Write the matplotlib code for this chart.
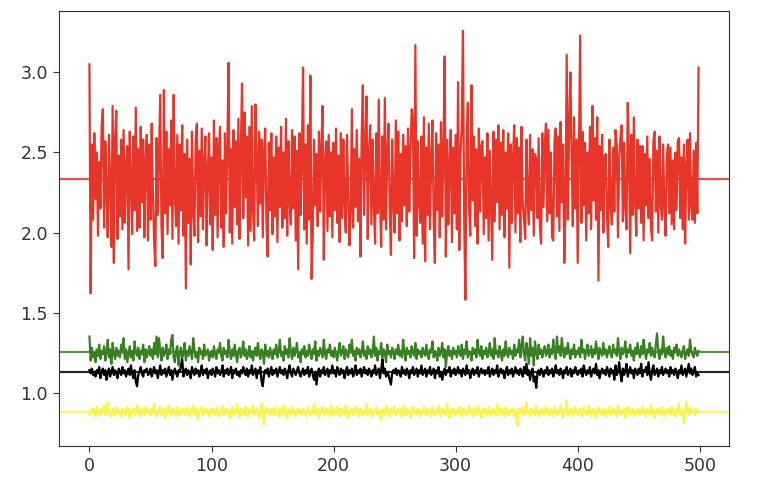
#!/usr/bin/env python3
"""Four noisy series with their mean lines."""

import matplotlib

matplotlib.use("Agg")
import matplotlib.pyplot as plt
import numpy as np

red_series = [
    3.05, 1.62, 2.55, 2.08, 2.62, 2.21, 2.50, 1.98, 2.44, 2.15, 2.66, 2.77, 2.03, 2.57, 2.25, 1.97, 2.61, 2.30, 1.91, 2.79,
    1.81, 2.59, 2.76, 1.96, 2.48, 2.10, 2.58, 2.02, 2.64, 2.06, 2.42, 2.54, 1.77, 2.63, 2.36, 1.99, 2.60, 2.14, 2.78, 2.01,
    2.52, 2.03, 2.66, 2.19, 2.58, 1.97, 2.47, 2.61, 1.95, 2.55, 2.08, 2.68, 2.24, 1.94, 1.79, 2.59, 2.11, 2.50, 2.86, 2.04,
    1.84, 2.89, 2.12, 2.63, 1.99, 2.52, 2.17, 2.70, 1.96, 2.86, 2.23, 2.04, 2.61, 1.93, 2.55, 2.14, 2.67, 1.98, 2.49, 1.65,
    2.58, 2.06, 2.46, 1.80, 2.63, 2.15, 1.98, 2.57, 2.68, 1.94, 2.51, 2.10, 2.65, 2.02, 2.44, 2.60, 1.92, 2.39, 2.62, 2.05,
    2.47, 1.89, 2.70, 2.11, 2.59, 1.97, 2.50, 2.66, 2.03, 2.45, 1.91, 2.62, 2.12, 2.55, 3.06, 2.00, 2.52, 1.93, 2.64, 2.16,
    2.57, 2.05, 2.71, 1.96, 2.50, 2.93, 2.09, 2.75, 2.22, 2.60, 1.92, 2.66, 2.01, 2.79, 2.13, 1.95, 2.80, 2.48, 2.04, 2.63,
    2.18, 2.58, 1.97, 2.49, 2.65, 2.07, 1.85, 2.56, 2.14, 2.62, 1.99, 2.47, 2.10, 2.60, 1.94, 2.53, 2.16, 2.66, 2.03, 2.50,
    2.09, 2.71, 1.98, 2.57, 2.20, 2.05, 2.64, 2.15, 2.60, 1.95, 2.51, 1.77, 2.62, 2.11, 2.47, 3.03, 2.02, 2.55, 1.93, 2.67,
    2.08, 2.98, 1.71, 2.00, 2.58, 2.17, 2.49, 2.04, 2.63, 2.13, 2.54, 2.79, 1.83, 2.44, 2.57, 2.01, 2.61, 2.10, 2.50, 1.97,
    2.56, 2.14, 2.65, 2.06, 2.48, 1.94, 2.62, 2.09, 2.58, 2.19, 2.00, 2.61, 2.27, 1.92, 2.13, 2.77, 2.03, 2.52, 2.16, 2.64,
    2.07, 2.46, 1.85, 2.60, 2.92, 2.11, 2.55, 2.85, 1.96, 2.49, 2.67, 2.05, 2.58, 2.18, 1.93, 2.62, 2.12, 2.83, 2.22, 1.91,
    2.60, 2.08, 2.84, 2.02, 2.51, 2.68, 2.15, 1.86, 2.58, 2.20, 2.00, 2.70, 2.12, 2.63, 1.95, 2.49, 2.07, 2.61, 2.17, 2.54,
    2.04, 2.65, 2.13, 2.51, 2.77, 2.71, 1.84, 3.17, 1.98, 2.57, 2.19, 2.06, 2.60, 1.93, 2.72, 1.82, 2.53, 2.11, 2.68, 2.02,
    2.47, 2.70, 2.08, 1.81, 2.62, 2.14, 2.55, 1.97, 2.69, 2.10, 2.50, 3.10, 1.85, 2.58, 2.05, 2.43, 2.64, 1.94, 2.53, 2.12,
    2.61, 2.02, 2.94, 1.89, 2.48, 2.67, 3.26, 2.08, 1.58, 2.56, 2.81, 2.15, 1.98, 2.92, 2.20, 2.60, 2.04, 2.52, 1.93, 2.65,
    2.13, 2.54, 2.57, 1.99, 2.47, 2.09, 2.62, 1.95, 2.51, 2.17, 1.83, 2.63, 2.07, 2.58, 2.19, 2.67, 2.02, 2.56, 2.11, 2.64,
    1.97, 2.50, 2.15, 2.62, 1.78, 2.55, 2.06, 2.46, 2.67, 2.00, 2.59, 2.12, 2.53, 1.94, 2.66, 2.18, 2.08, 1.96, 2.58, 2.20,
    2.05, 2.61, 2.14, 2.52, 1.98, 2.49, 2.46, 2.09, 2.59, 2.03, 1.93, 2.62, 2.16, 2.54, 2.68, 2.07, 2.64, 2.12, 2.50, 1.97,
    1.95, 2.57, 2.65, 2.10, 2.60, 2.01, 2.69, 2.19, 2.55, 1.81, 2.14, 3.11, 2.08, 2.67, 3.00, 2.48, 2.04, 2.72, 2.15, 2.58,
    1.81, 2.52, 3.23, 2.06, 2.63, 2.17, 2.56, 1.95, 2.50, 2.12, 2.66, 2.02, 2.79, 2.20, 2.59, 2.08, 2.72, 1.70, 2.54, 2.14,
    2.61, 2.00, 2.47, 2.49, 2.10, 1.91, 2.58, 2.18, 2.05, 2.53, 2.13, 2.64, 2.55, 1.97, 2.47, 2.59, 2.67, 2.07, 2.56, 2.16,
    2.02, 2.81, 2.51, 1.87, 2.61, 2.11, 2.72, 2.20, 1.98, 2.58, 2.15, 2.54, 2.06, 2.54, 1.95, 2.49, 2.17, 2.60, 2.09, 2.46,
    2.03, 1.95, 2.57, 2.63, 2.13, 2.51, 2.00, 2.60, 2.19, 2.08, 2.55, 2.15, 1.98, 2.48, 2.55, 2.12, 2.53, 2.05, 2.45, 2.02,
    2.50, 2.14, 2.57, 2.59, 2.09, 2.47, 2.02, 2.55, 1.93, 2.42, 2.58, 2.08, 2.62, 2.16, 2.08, 2.51, 2.06, 2.56, 2.12, 3.03,
]

green_series = [
    1.35, 1.20, 1.28, 1.22, 1.25, 1.19, 1.27, 1.23, 1.30, 1.21, 1.26, 1.24, 1.29, 1.20, 1.25, 1.33, 1.22, 1.27, 1.18, 1.31, 1.24, 1.21, 1.28, 1.23, 1.26,
    1.22, 1.30, 1.25, 1.34, 1.21, 1.27, 1.19, 1.24, 1.29, 1.22, 1.26, 1.20, 1.32, 1.25, 1.23, 1.28, 1.21, 1.26, 1.24, 1.30, 1.19, 1.27, 1.22, 1.25, 1.29,
    1.23, 1.27, 1.21, 1.31, 1.24, 1.35, 1.22, 1.34, 1.26, 1.20, 1.28, 1.23, 1.25, 1.30, 1.21, 1.27, 1.24, 1.33, 1.36, 1.22, 1.19, 1.26, 1.29, 1.17, 1.25,
    1.28, 1.22, 1.24, 1.31, 1.20, 1.26, 1.23, 1.29, 1.25, 1.21, 1.34, 1.27, 1.22, 1.25, 1.19, 1.28, 1.24, 1.26, 1.21, 1.30, 1.23, 1.25, 1.27, 1.20, 1.24,
    1.26, 1.22, 1.29, 1.24, 1.21, 1.27, 1.25, 1.31, 1.23, 1.20, 1.28, 1.24, 1.26, 1.22, 1.33, 1.25, 1.21, 1.27, 1.23, 1.30, 1.24, 1.19, 1.26, 1.28, 1.22,
    1.25, 1.32, 1.23, 1.27, 1.21, 1.24, 1.29, 1.22, 1.26, 1.20, 1.25, 1.28, 1.23, 1.31, 1.24, 1.21, 1.27, 1.25, 1.18, 1.30, 1.23, 1.26, 1.22, 1.28, 1.24,
    1.21, 1.27, 1.24, 1.30, 1.22, 1.26, 1.33, 1.23, 1.25, 1.20, 1.29, 1.24, 1.27, 1.22, 1.34, 1.25, 1.21, 1.28, 1.23, 1.26, 1.31, 1.22, 1.25, 1.19, 1.27,
    1.24, 1.29, 1.22, 1.26, 1.23, 1.30, 1.25, 1.21, 1.27, 1.24, 1.32, 1.20, 1.26, 1.23, 1.28, 1.25, 1.22, 1.33, 1.24, 1.21, 1.27, 1.25, 1.30, 1.23, 1.26,
    1.22, 1.28, 1.24, 1.20, 1.26, 1.31, 1.23, 1.25, 1.29, 1.21, 1.27, 1.24, 1.22, 1.30, 1.25, 1.33, 1.23, 1.26, 1.20, 1.28, 1.24, 1.27, 1.22, 1.25, 1.32,
    1.23, 1.26, 1.21, 1.29, 1.24, 1.27, 1.22, 1.25, 1.35, 1.23, 1.28, 1.20, 1.26, 1.24, 1.31, 1.22, 1.27, 1.25, 1.19, 1.30, 1.24, 1.26, 1.22, 1.28, 1.25,
    1.21, 1.27, 1.24, 1.30, 1.23, 1.26, 1.22, 1.33, 1.25, 1.20, 1.28, 1.24, 1.26, 1.22, 1.29, 1.25, 1.23, 1.31, 1.21, 1.27, 1.24, 1.26, 1.22, 1.28, 1.25,
    1.23, 1.30, 1.24, 1.21, 1.27, 1.25, 1.32, 1.22, 1.26, 1.24, 1.20, 1.28, 1.23, 1.25, 1.31, 1.22, 1.27, 1.16, 1.25, 1.29, 1.23, 1.26, 1.21, 1.28, 1.24,
    1.26, 1.22, 1.29, 1.25, 1.23, 1.30, 1.21, 1.27, 1.24, 1.32, 1.22, 1.26, 1.25, 1.20, 1.28, 1.24, 1.27, 1.22, 1.33, 1.25, 1.23, 1.29, 1.21, 1.26, 1.24,
    1.28, 1.22, 1.25, 1.31, 1.23, 1.27, 1.21, 1.34, 1.24, 1.26, 1.22, 1.29, 1.25, 1.20, 1.27, 1.23, 1.32, 1.25, 1.22, 1.28, 1.24, 1.26, 1.21, 1.30, 1.23,
    1.27, 1.25, 1.33, 1.22, 1.29, 1.35, 1.24, 1.20, 1.31, 1.26, 1.18, 1.34, 1.23, 1.28, 1.17, 1.32, 1.25, 1.21, 1.30, 1.24, 1.27, 1.22, 1.26, 1.29, 1.23,
    1.25, 1.30, 1.22, 1.27, 1.24, 1.33, 1.26, 1.21, 1.35, 1.25, 1.29, 1.23, 1.34, 1.26, 1.22, 1.28, 1.24, 1.31, 1.25, 1.21, 1.27, 1.24, 1.30, 1.22, 1.26,
    1.24, 1.28, 1.22, 1.33, 1.25, 1.27, 1.21, 1.26, 1.30, 1.23, 1.25, 1.29, 1.22, 1.27, 1.24, 1.32, 1.26, 1.21, 1.28, 1.25, 1.23, 1.31, 1.24, 1.27, 1.22,
    1.26, 1.29, 1.24, 1.22, 1.30, 1.25, 1.27, 1.23, 1.34, 1.25, 1.21, 1.28, 1.24, 1.26, 1.32, 1.22, 1.27, 1.25, 1.30, 1.23, 1.26, 1.20, 1.28, 1.24, 1.31,
    1.25, 1.22, 1.29, 1.24, 1.33, 1.26, 1.21, 1.27, 1.25, 1.31, 1.23, 1.28, 1.24, 1.22, 1.30, 1.37, 1.25, 1.21, 1.27, 1.24, 1.35, 1.26, 1.22, 1.28, 1.24,
    1.29, 1.23, 1.26, 1.21, 1.28, 1.25, 1.30, 1.23, 1.27, 1.24, 1.22, 1.26, 1.29, 1.21, 1.25, 1.27, 1.23, 1.33, 1.26, 1.24, 1.22, 1.28, 1.25, 1.23, 1.26,
]

black_series = [
    1.14, 1.12, 1.15, 1.11, 1.13, 1.10, 1.14, 1.12, 1.16, 1.09, 1.13, 1.15, 1.11, 1.14, 1.08, 1.12, 1.15, 1.10, 1.13, 1.16, 1.11, 1.14, 1.12, 1.09, 1.15,
    1.13, 1.11, 1.16, 1.12, 1.14, 1.10, 1.13, 1.15, 1.11, 1.17, 1.12, 1.09, 1.14, 1.07, 1.04, 1.11, 1.13, 1.16, 1.12, 1.10, 1.14, 1.13, 1.15, 1.11, 1.12,
    1.15, 1.10, 1.13, 1.16, 1.12, 1.14, 1.09, 1.13, 1.17, 1.11, 1.14, 1.12, 1.15, 1.10, 1.13, 1.16, 1.11, 1.14, 1.08, 1.13, 1.15, 1.12, 1.10, 1.14, 1.13,
    1.17, 1.21, 1.10, 1.13, 1.15, 1.11, 1.14, 1.12, 1.09, 1.16, 1.13, 1.11, 1.15, 1.12, 1.14, 1.10, 1.13, 1.17, 1.11, 1.14, 1.12, 1.15, 1.09, 1.13, 1.14,
    1.11, 1.15, 1.13, 1.10, 1.16, 1.12, 1.14, 1.11, 1.13, 1.17, 1.10, 1.14, 1.12, 1.15, 1.11, 1.13, 1.16, 1.09, 1.14, 1.12, 1.15, 1.11, 1.13, 1.10, 1.14,
    1.12, 1.16, 1.13, 1.11, 1.15, 1.10, 1.14, 1.12, 1.17, 1.11, 1.13, 1.15, 1.09, 1.14, 1.12, 1.16, 1.07, 1.04, 1.11, 1.14, 1.12, 1.15, 1.10, 1.13, 1.16,
    1.11, 1.14, 1.12, 1.15, 1.10, 1.13, 1.16, 1.12, 1.14, 1.11, 1.15, 1.13, 1.09, 1.14, 1.17, 1.12, 1.10, 1.15, 1.13, 1.11, 1.14, 1.16, 1.12, 1.10, 1.13,
    1.15, 1.11, 1.14, 1.12, 1.16, 1.10, 1.13, 1.15, 1.11, 1.08, 1.13, 1.05, 1.12, 1.15, 1.10, 1.14, 1.12, 1.16, 1.11, 1.13, 1.15, 1.10, 1.14, 1.12, 1.17,
    1.12, 1.14, 1.10, 1.16, 1.13, 1.11, 1.15, 1.12, 1.14, 1.09, 1.13, 1.16, 1.11, 1.14, 1.12, 1.15, 1.10, 1.13, 1.17, 1.11, 1.14, 1.12, 1.15, 1.10, 1.13,
    1.16, 1.12, 1.14, 1.11, 1.15, 1.13, 1.10, 1.14, 1.12, 1.17, 1.11, 1.13, 1.15, 1.09, 1.14, 1.21, 1.12, 1.15, 1.10, 1.13, 1.11, 1.08, 1.05, 1.12, 1.14,
    1.12, 1.15, 1.11, 1.14, 1.13, 1.10, 1.16, 1.12, 1.14, 1.11, 1.15, 1.13, 1.09, 1.14, 1.12, 1.16, 1.11, 1.13, 1.15, 1.10, 1.14, 1.12, 1.17, 1.11, 1.13,
    1.15, 1.10, 1.14, 1.12, 1.16, 1.11, 1.13, 1.15, 1.09, 1.14, 1.12, 1.16, 1.10, 1.13, 1.08, 1.12, 1.15, 1.11, 1.14, 1.13, 1.16, 1.10, 1.14, 1.12, 1.15,
    1.11, 1.13, 1.16, 1.12, 1.14, 1.10, 1.15, 1.13, 1.11, 1.17, 1.12, 1.14, 1.09, 1.13, 1.15, 1.11, 1.14, 1.12, 1.16, 1.10, 1.13, 1.15, 1.12, 1.14, 1.11,
    1.14, 1.12, 1.16, 1.10, 1.13, 1.15, 1.11, 1.14, 1.12, 1.17, 1.10, 1.13, 1.15, 1.12, 1.14, 1.09, 1.13, 1.16, 1.11, 1.14, 1.12, 1.15, 1.10, 1.13, 1.16,
    1.12, 1.14, 1.11, 1.15, 1.13, 1.10, 1.16, 1.12, 1.18, 1.11, 1.14, 1.08, 1.13, 1.15, 1.07, 1.10, 1.03, 1.12, 1.14, 1.11, 1.15, 1.13, 1.10, 1.14, 1.12,
    1.16, 1.11, 1.14, 1.12, 1.15, 1.10, 1.13, 1.17, 1.12, 1.14, 1.11, 1.15, 1.13, 1.09, 1.14, 1.12, 1.16, 1.11, 1.13, 1.15, 1.10, 1.14, 1.12, 1.16, 1.13,
    1.11, 1.14, 1.12, 1.15, 1.10, 1.17, 1.13, 1.11, 1.14, 1.12, 1.16, 1.10, 1.13, 1.15, 1.12, 1.18, 1.11, 1.14, 1.09, 1.13, 1.15, 1.12, 1.14, 1.11, 1.16,
    1.13, 1.10, 1.15, 1.12, 1.14, 1.08, 1.17, 1.11, 1.13, 1.19, 1.12, 1.07, 1.15, 1.11, 1.14, 1.18, 1.10, 1.13, 1.16, 1.12, 1.14, 1.09, 1.15, 1.13, 1.11,
    1.15, 1.12, 1.18, 1.10, 1.14, 1.13, 1.16, 1.11, 1.19, 1.12, 1.08, 1.14, 1.17, 1.11, 1.13, 1.15, 1.10, 1.14, 1.12, 1.16, 1.11, 1.13, 1.15, 1.12, 1.14,
    1.10, 1.16, 1.12, 1.14, 1.11, 1.15, 1.13, 1.09, 1.14, 1.12, 1.17, 1.11, 1.13, 1.15, 1.10, 1.14, 1.18, 1.12, 1.15, 1.11, 1.13, 1.16, 1.10, 1.12, 1.11,
]

yellow_series = [
    0.86, 0.89, 0.87, 0.90, 0.88, 0.85, 0.91, 0.87, 0.89, 0.86, 0.90, 0.88, 0.92, 0.86, 0.89, 0.94, 0.87, 0.88, 0.85, 0.90, 0.88, 0.86, 0.91, 0.87, 0.89,
    0.88, 0.85, 0.90, 0.87, 0.89, 0.86, 0.91, 0.88, 0.84, 0.89, 0.87, 0.90, 0.86, 0.88, 0.92, 0.87, 0.89, 0.85, 0.90, 0.88, 0.86, 0.91, 0.87, 0.89, 0.88,
    0.86, 0.90, 0.87, 0.93, 0.88, 0.85, 0.89, 0.87, 0.91, 0.86, 0.88, 0.90, 0.84, 0.89, 0.87, 0.92, 0.88, 0.86, 0.90, 0.87, 0.89, 0.85, 0.91, 0.88, 0.86,
    0.89, 0.87, 0.90, 0.86, 0.88, 0.91, 0.87, 0.85, 0.89, 0.88, 0.92, 0.86, 0.90, 0.87, 0.83, 0.89, 0.88, 0.91, 0.86, 0.88, 0.90, 0.87, 0.89, 0.85, 0.88,
    0.90, 0.87, 0.89, 0.86, 0.91, 0.88, 0.85, 0.89, 0.87, 0.92, 0.86, 0.88, 0.90, 0.87, 0.89, 0.84, 0.88, 0.91, 0.86, 0.89, 0.87, 0.93, 0.88, 0.85, 0.90,
    0.87, 0.89, 0.86, 0.91, 0.88, 0.85, 0.90, 0.87, 0.89, 0.92, 0.86, 0.88, 0.90, 0.87, 0.84, 0.89, 0.93, 0.86, 0.80, 0.88, 0.91, 0.87, 0.89, 0.86, 0.90,
    0.88, 0.86, 0.91, 0.87, 0.89, 0.85, 0.90, 0.88, 0.86, 0.92, 0.87, 0.89, 0.84, 0.90, 0.88, 0.86, 0.91, 0.87, 0.89, 0.85, 0.88, 0.90, 0.87, 0.89, 0.86,
    0.90, 0.87, 0.88, 0.85, 0.91, 0.88, 0.86, 0.89, 0.87, 0.93, 0.86, 0.88, 0.90, 0.84, 0.89, 0.87, 0.91, 0.88, 0.86, 0.90, 0.87, 0.89, 0.85, 0.92, 0.88,
    0.86, 0.89, 0.87, 0.91, 0.88, 0.85, 0.90, 0.87, 0.89, 0.86, 0.92, 0.88, 0.84, 0.89, 0.87, 0.90, 0.86, 0.88, 0.91, 0.87, 0.89, 0.85, 0.90, 0.88, 0.86,
    0.89, 0.87, 0.93, 0.86, 0.88, 0.90, 0.87, 0.85, 0.89, 0.88, 0.91, 0.86, 0.89, 0.87, 0.83, 0.90, 0.88, 0.86, 0.92, 0.87, 0.89, 0.85, 0.90, 0.88, 0.87,
    0.91, 0.86, 0.88, 0.90, 0.87, 0.89, 0.85, 0.92, 0.88, 0.86, 0.90, 0.87, 0.89, 0.84, 0.88, 0.91, 0.87, 0.89, 0.86, 0.90, 0.88, 0.85, 0.89, 0.87, 0.91,
    0.88, 0.86, 0.90, 0.87, 0.89, 0.85, 0.91, 0.88, 0.86, 0.89, 0.87, 0.92, 0.88, 0.85, 0.90, 0.87, 0.89, 0.86, 0.93, 0.88, 0.84, 0.89, 0.87, 0.90, 0.88,
    0.86, 0.89, 0.87, 0.91, 0.88, 0.85, 0.90, 0.87, 0.89, 0.86, 0.88, 0.92, 0.87, 0.89, 0.85, 0.90, 0.88, 0.86, 0.91, 0.87, 0.89, 0.84, 0.88, 0.90, 0.87,
    0.89, 0.86, 0.91, 0.88, 0.85, 0.90, 0.87, 0.89, 0.86, 0.93, 0.88, 0.86, 0.90, 0.87, 0.89, 0.85, 0.91, 0.88, 0.86, 0.89, 0.87, 0.90, 0.88, 0.85, 0.89,
    0.86, 0.79, 0.90, 0.88, 0.87, 0.91, 0.86, 0.89, 0.94, 0.87, 0.88, 0.85, 0.90, 0.87, 0.89, 0.86, 0.92, 0.88, 0.85, 0.89, 0.87, 0.90, 0.86, 0.88, 0.91,
    0.87, 0.89, 0.86, 0.90, 0.88, 0.85, 0.91, 0.87, 0.89, 0.86, 0.88, 0.92, 0.87, 0.84, 0.89, 0.88, 0.95, 0.86, 0.89, 0.87, 0.90, 0.85, 0.88, 0.91, 0.87,
    0.89, 0.86, 0.90, 0.88, 0.85, 0.91, 0.87, 0.89, 0.86, 0.92, 0.88, 0.85, 0.90, 0.87, 0.89, 0.84, 0.88, 0.91, 0.87, 0.89, 0.86, 0.90, 0.88, 0.85, 0.89,
    0.87, 0.91, 0.86, 0.88, 0.90, 0.87, 0.89, 0.85, 0.92, 0.88, 0.86, 0.89, 0.87, 0.90, 0.84, 0.88, 0.91, 0.87, 0.89, 0.86, 0.90, 0.88, 0.85, 0.89, 0.87,
    0.90, 0.86, 0.88, 0.91, 0.87, 0.89, 0.85, 0.90, 0.88, 0.86, 0.92, 0.87, 0.89, 0.84, 0.88, 0.90, 0.87, 0.89, 0.86, 0.91, 0.88, 0.85, 0.89, 0.87, 0.90,
    0.88, 0.86, 0.91, 0.87, 0.89, 0.85, 0.90, 0.88, 0.93, 0.86, 0.89, 0.87, 0.81, 0.90, 0.94, 0.88, 0.86, 0.91, 0.87, 0.89, 0.88, 0.86, 0.90, 0.87, 0.88,
]

SERIES = [
    (red_series, "#e8352a"),
    (green_series, "#3a8022"),
    (black_series, "#000000"),
    (yellow_series, "#fbf44c"),
]


def main() -> int:
    plt.rcParams["font.size"] = 12.5

    fig = plt.figure(figsize=(7.62, 4.96), dpi=100)
    ax = fig.add_axes([0.0774, 0.1008, 0.8793, 0.877])

    for values, color in SERIES:
        values = np.asarray(values)
        ax.plot(np.arange(len(values)), values, color=color, linewidth=1.6)
        ax.axhline(values.mean(), color=color, linewidth=1.6, alpha=0.85)

    ax.set_xticks([0, 100, 200, 300, 400, 500])
    ax.set_yticks([1.0, 1.5, 2.0, 2.5, 3.0])
    ax.tick_params(length=4.5, color="#333333", labelcolor="#333333")
    for spine in ax.spines.values():
        spine.set_color("#333333")

    fig.savefig("out.png", dpi=100)
    print("Saved plot: out.png")
    return 0


if __name__ == "__main__":
    raise SystemExit(main())
